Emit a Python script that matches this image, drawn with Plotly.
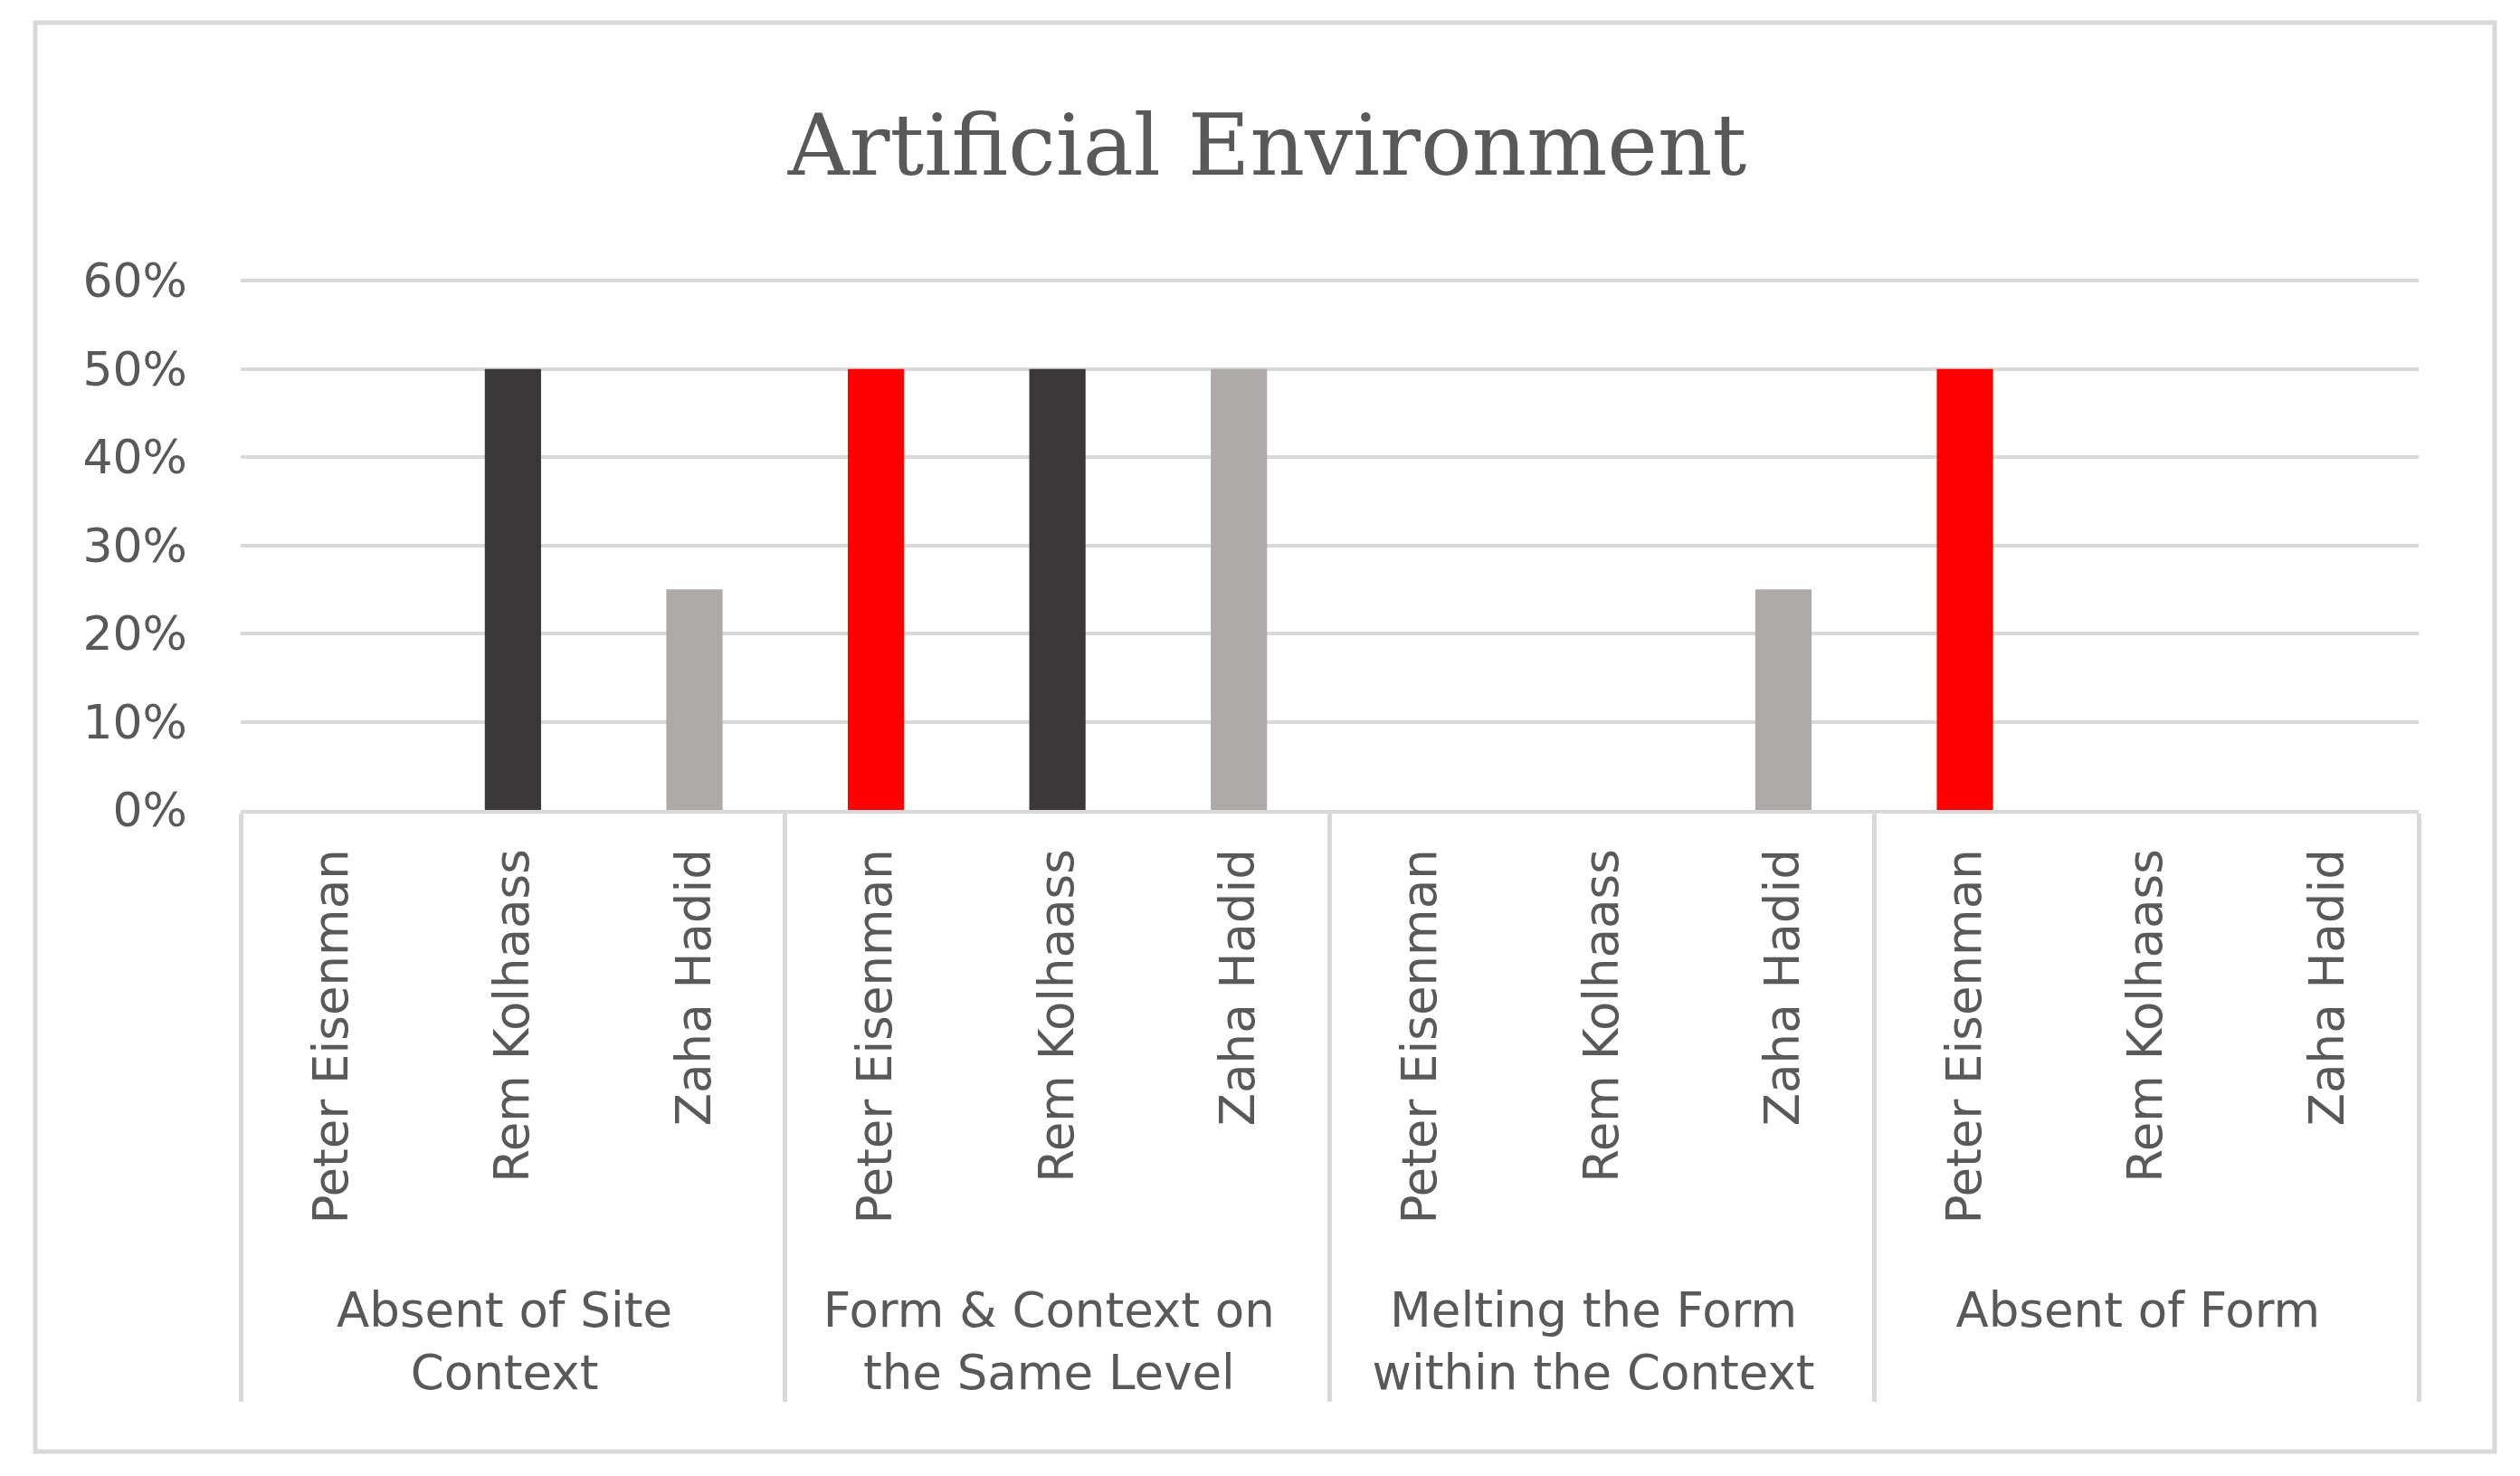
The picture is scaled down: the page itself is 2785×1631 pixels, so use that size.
import plotly.graph_objects as go

# ---- data ----
groups = ["Absent of Site<br>Context", "Form &amp; Context on<br>the Same Level",
          "Melting the Form<br>within the Context", "Absent of Form"]
architects = ["Peter Eisenman", "Rem Kolhaass", "Zaha Hadid"]
peter_eisenman = [0.0, 0.5, 0.0, 0.5]
rem_kolhaass = [0.5, 0.5, 0.0, 0.0]
zaha_hadid = [0.25, 0.5, 0.25, 0.0]
series = [peter_eisenman, rem_kolhaass, zaha_hadid]
colors = ["#FF0000", "#3A3838", "#AEAAAA"]
y_ticks = [0, 0.1, 0.2, 0.3, 0.4, 0.5, 0.6]
y_tick_labels = ["0%", "10%", "20%", "30%", "40%", "50%", "60%"]

W, H = 2785, 1631
OFF = 8  # page body margin
ML, MT = 266 - OFF, 309 - OFF
MR, MB = 112 + OFF, 736 + OFF

PAD = "\u00a0\u00a0"  # keeps the group row below the rotated names, as in the reference

fig = go.Figure()
for name, vals, col in zip(architects, series, colors):
    fig.add_trace(go.Bar(
        x=[groups, [PAD + name] * len(groups)],
        y=vals,
        name=name,
        marker=dict(color=col, line=dict(width=0)),
        showlegend=False,
    ))

txt = "#595959"
grid = "#D9D9D9"
fig.update_layout(
    width=W, height=H,
    margin=dict(l=ML, r=MR, t=MT, b=MB, pad=0),
    paper_bgcolor="white", plot_bgcolor="white",
    barmode="overlay", bargap=0.69,
    title=dict(text="Artificial Environment", x=0.5, xanchor="center",
               y=1 - (160 - OFF) / H, yanchor="middle", yref="container",
               font=dict(family="DejaVu Serif", size=94, color=txt)),
    font=dict(family="DejaVu Sans", color=txt),
)
fig.update_yaxes(range=[0, 0.6012], tickvals=y_ticks, ticktext=y_tick_labels,
                 showgrid=True, gridcolor=grid, gridwidth=4, zeroline=False,
                 showline=False, ticks="", ticklabelstandoff=58,
                 tickfont=dict(family="DejaVu Sans", size=52, color=txt))
fig.update_xaxes(type="multicategory", tickangle=-90, showline=True,
                 linecolor=grid, linewidth=4, ticks="", showgrid=False,
                 showdividers=True, dividercolor=grid, dividerwidth=5,
                 ticklabelstandoff=18,
                 tickfont=dict(family="DejaVu Sans", size=53, color=txt))

# outer chart border
pw, ph = W - ML - MR, H - MT - MB
fig.add_shape(type="rect", xref="paper", yref="paper",
              x0=(39 - OFF - ML) / pw, x1=(2757 - OFF - ML) / pw,
              y0=(H - MB - (1604 - OFF)) / ph, y1=(H - MB - (25 - OFF)) / ph,
              line=dict(color=grid, width=5), layer="below")

fig.write_html("out.html")
